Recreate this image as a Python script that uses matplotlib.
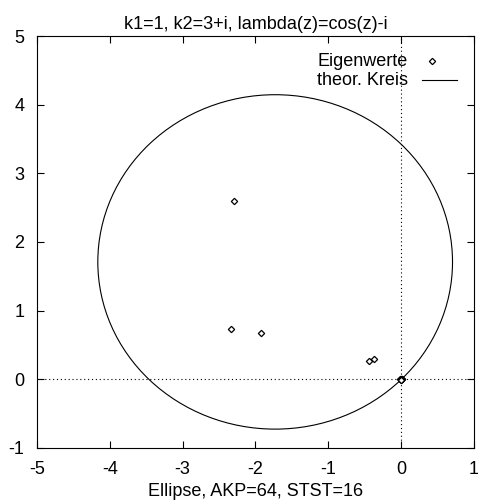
import matplotlib
matplotlib.use("Agg")
import matplotlib.pyplot as plt
from matplotlib.patches import Circle

plt.rcParams['font.family'] = ['Liberation Sans', 'DejaVu Sans']
plt.rcParams['axes.unicode_minus'] = False

# Eigenvalues (real, imaginary)
eig_re = [-2.29, -2.34, -1.92, -0.44, -0.37, 0.0, 0.012, -0.012, 0.006, -0.006, 0.0, 0.0]
eig_im = [2.59, 0.74, 0.68, 0.26, 0.29, 0.0, 0.0, 0.0, 0.01, -0.01, 0.012, -0.012]

# Theoretical circle
circle_center = (-1.73, 1.71)
circle_radius = 2.435

xticks = [-5, -4, -3, -2, -1, 0, 1]
yticks = [-1, 0, 1, 2, 3, 4, 5]

title = "k1=1, k2=3+i, lambda(z)=cos(z)-i"
xlabel = "Ellipse, AKP=64, STST=16"
legend_labels = ["Eigenwerte", "theor. Kreis"]

fs = 13
fig = plt.figure(figsize=(4.78, 5.03), dpi=100)
ax = fig.add_axes([37/478, 55/503, 437/478, 412/503])

ax.axhline(0, color='black', linestyle=(0, (1, 2.5)), linewidth=0.8)
ax.axvline(0, color='black', linestyle=(0, (1, 2.5)), linewidth=0.8)

mk = dict(linestyle='none', marker='D', markersize=3.2,
          markerfacecolor='white', markeredgecolor='black', markeredgewidth=0.9)
ax.plot(eig_re, eig_im, zorder=3, **mk)
circ = Circle(circle_center, circle_radius, fill=False, edgecolor='black', linewidth=0.8)
ax.add_patch(circ)

ax.set_xlim(-5, 1)
ax.set_ylim(-1, 5)
ax.set_xticks(xticks)
ax.set_yticks(yticks)
ax.tick_params(direction='in', length=5, width=0.8, top=True, right=True,
               labelsize=fs)
ax.tick_params(axis='x', pad=9)
ax.tick_params(axis='y', pad=9)
for s in ax.spines.values():
    s.set_linewidth(0.8)

ax.set_title(title, fontsize=fs, pad=5)
ax.set_xlabel(xlabel, fontsize=fs, labelpad=4)

# key (gnuplot style, no frame)
tr = ax.transAxes
ax.text(0.849, 0.937, legend_labels[0], transform=tr, ha='right', va='center', fontsize=fs)
ax.text(0.849, 0.893, legend_labels[1], transform=tr, ha='right', va='center', fontsize=fs)
ax.plot([0.904], [0.939], transform=tr, clip_on=False, **mk)
ax.plot([0.881, 0.961], [0.893, 0.893], transform=tr, color='black', linewidth=0.8)

fig.savefig('out.png', dpi=100)
